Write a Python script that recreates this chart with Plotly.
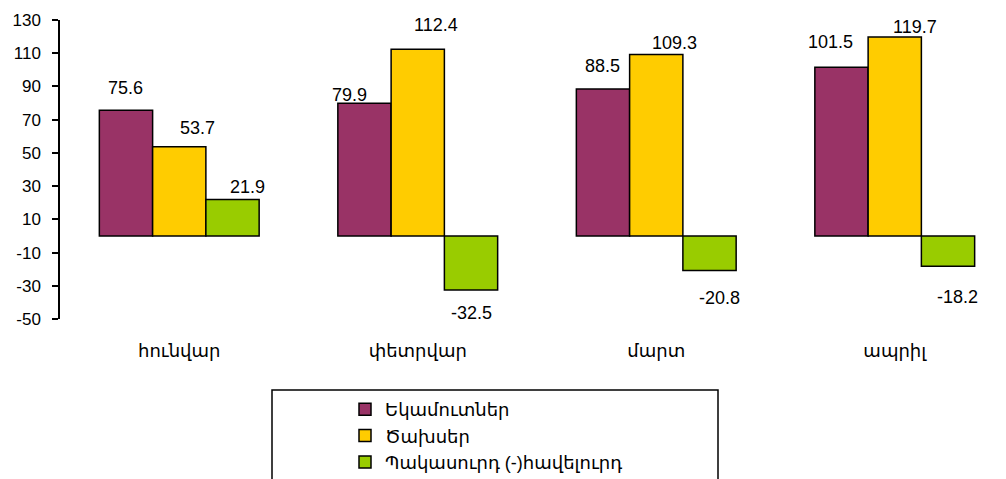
import plotly.graph_objects as go

categories = ["հունվար", "փետրվար", "մարտ", "ապրիլ"]
series_names = ["Եկամուտներ", "Ծախսեր", "Պակասուրդ (-)հավելուրդ"]
income = [75.6, 79.9, 88.5, 101.5]
expenses = [53.7, 112.4, 109.3, 119.7]
balance = [21.9, -32.5, -20.8, -18.2]
y_ticks = [-50, -30, -10, 10, 30, 50, 70, 90, 110, 130]

series_values = [income, expenses, balance]
colors = ["#993366", "#FFCC00", "#99CC00"]
# label offsets in pixels (dx, dy) per series/category, as placed in the original
label_offsets = [
    [(0, 22), (-15, 8), (0, 23), (-11, 25)],
    [(18, 19), (18, 24), (18, 11), (20, 10)],
    [(15, 13), (0, -23), (10, -27), (9, -31)],
]

FONT = "Arial, Liberation Sans, DejaVu Sans, sans-serif"
bargap = 0.33
bar_w = (1 - bargap) / 3

fig = go.Figure()
for i, (name, vals, col) in enumerate(zip(series_names, series_values, colors)):
    fig.add_trace(go.Bar(
        x=categories, y=vals, name=name, legendgroup=f"g{i}",
        marker=dict(color=col, line=dict(color="black", width=1.5)),
    ))

annotations = []
for k, vals in enumerate(series_values):
    for i, v in enumerate(vals):
        dx, dy = label_offsets[k][i]
        annotations.append(dict(
            x=i + (k - 1) * bar_w, y=v, xref="x", yref="y",
            text=f"{v:.1f}", showarrow=False,
            xshift=dx, yshift=dy, yanchor="middle", xanchor="center",
            font=dict(family=FONT, size=18, color="black"),
        ))

ymin, ymax = -50, 130
zero_pos = (0 - ymin) / (ymax - ymin)
# page has an 8px body margin; plot area in page pixels: x 60..1014, y 20..319
PX0, PW, PY1, PH = 60, 954, 319, 299

fig.update_layout(
    width=1006, height=479,
    margin=dict(l=52, r=0, t=12, b=168, autoexpand=False),
    paper_bgcolor="white", plot_bgcolor="white",
    barmode="group", bargap=bargap, bargroupgap=0,
    showlegend=True,
    legend=dict(
        x=(345 - PX0) / PW, y=(PY1 - 391) / PH, xanchor="left", yanchor="top",
        font=dict(family=FONT, size=18, color="black"),
        bgcolor="rgba(0,0,0,0)", borderwidth=0,
        tracegroupgap=4, traceorder="normal", orientation="v",
    ),
    xaxis=dict(
        type="category", range=[-0.5, 3.5],
        showline=False, ticks="", showgrid=False, zeroline=False,
        ticklabelstandoff=19, tickangle=0,
        tickfont=dict(family=FONT, size=18, color="black"),
    ),
    xaxis2=dict(
        overlaying="x", anchor="free", position=zero_pos, side="bottom",
        type="linear", range=[-0.5, 3.5],
        showline=True, linecolor="black", linewidth=1.5,
        ticks="outside", ticklen=6, tickwidth=1.5, tickcolor="black",
        tickvals=[0.5, 1.5, 2.5], showticklabels=False,
        showgrid=False, zeroline=False,
    ),
    yaxis=dict(
        range=[ymin, ymax], tickvals=y_ticks, ticktext=[str(v) for v in y_ticks],
        showline=True, linecolor="black", linewidth=1.5,
        ticks="outside", ticklen=6, tickwidth=1.5, tickcolor="black",
        ticklabelstandoff=8,
        showgrid=False, zeroline=False,
        tickfont=dict(family=FONT, size=17, color="black"),
    ),
    annotations=annotations,
    shapes=[dict(
        type="rect", xref="paper", yref="paper",
        x0=(272 - PX0) / PW, x1=(718 - PX0) / PW,
        y0=(PY1 - 390) / PH, y1=(PY1 - 520) / PH,
        line=dict(color="black", width=1.5), fillcolor="rgba(0,0,0,0)",
    )],
)

fig.write_html("out.html")
